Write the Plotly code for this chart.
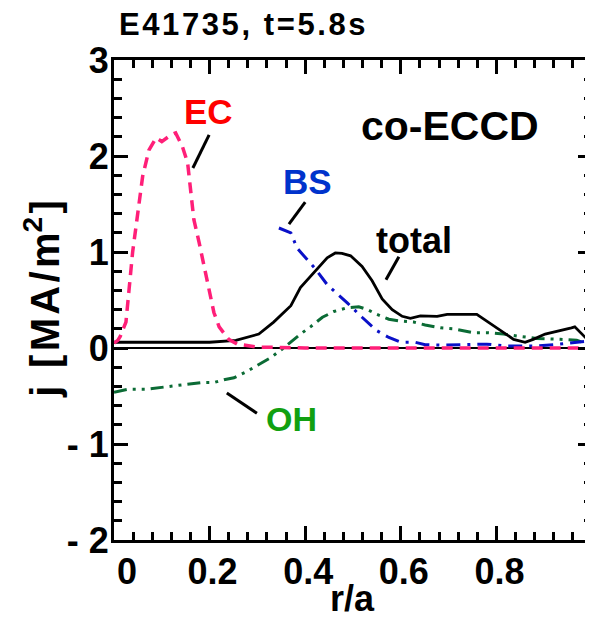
import plotly.graph_objects as go

# ---- data ----
ec_x = [0, 0.008, 0.013, 0.025, 0.039, 0.049, 0.06, 0.073, 0.088, 0.1, 0.119, 0.129, 0.143, 0.154,
        0.161, 0.167, 0.178, 0.188, 0.198, 0.209, 0.22, 0.24, 0.258, 0.3, 0.4, 0.5, 0.6, 0.7, 0.8, 0.9, 1.0]
ec_y = [0.05, 0.08, 0.12, 0.27, 1.0, 1.41, 1.79, 2.06, 2.19, 2.15, 2.22, 2.24, 2.1, 1.93,
        1.62, 1.34, 1.1, 0.85, 0.61, 0.37, 0.22, 0.09, 0.04, 0.01, 0, 0, 0, 0, 0, 0, 0]

tot_x = [0, 0.1, 0.2, 0.255, 0.303, 0.334, 0.37, 0.39, 0.418, 0.446, 0.463, 0.477, 0.495, 0.519,
         0.54, 0.561, 0.582, 0.603, 0.62, 0.641, 0.676, 0.697, 0.759, 0.783, 0.808, 0.836, 0.86,
         0.877, 0.902, 0.926, 0.957, 0.964, 0.982, 0.996]
tot_y = [0.06, 0.06, 0.06, 0.08, 0.145, 0.27, 0.44, 0.63, 0.79, 0.94, 0.99, 0.985, 0.96, 0.85,
         0.70, 0.51, 0.40, 0.33, 0.31, 0.335, 0.33, 0.35, 0.35, 0.27, 0.18, 0.09, 0.06,
         0.09, 0.145, 0.17, 0.21, 0.22, 0.13, 0.06]

bs_x = [0.345, 0.37, 0.383, 0.404, 0.422, 0.446, 0.474, 0.488, 0.519, 0.55, 0.575, 0.6, 0.63,
        0.651, 0.683, 0.738, 0.78, 0.822, 0.877, 0.919, 0.968, 0.99]
bs_y = [1.25, 1.2, 1.04, 0.92, 0.82, 0.66, 0.54, 0.47, 0.32, 0.18, 0.11, 0.06, 0.06,
        0.035, 0.03, 0.04, 0.04, 0.02, 0.02, 0.035, 0.06, 0.07]

oh_x = [0, 0.029, 0.067, 0.112, 0.147, 0.182, 0.209, 0.23, 0.251, 0.276, 0.3, 0.328, 0.352, 0.373,
        0.39, 0.411, 0.436, 0.46, 0.488, 0.512, 0.53, 0.55, 0.575, 0.6, 0.627, 0.651, 0.683, 0.71,
        0.752, 0.78, 0.815, 0.85, 0.884, 0.933, 0.968, 0.985]
oh_y = [-0.46, -0.43, -0.43, -0.40, -0.38, -0.36, -0.36, -0.33, -0.31, -0.25, -0.18, -0.10, -0.01, 0.08,
        0.145, 0.22, 0.32, 0.38, 0.42, 0.43, 0.40, 0.35, 0.30, 0.28, 0.27, 0.24, 0.21, 0.20,
        0.16, 0.16, 0.145, 0.12, 0.10, 0.09, 0.08, 0.05]

x_ticks = [0, 0.2, 0.4, 0.6, 0.8, 1.0]
x_ticktext = ["\u20070", "0.2", "0.4", "0.6", "0.8", "1"]
y_ticks = [-2, -1, 0, 1, 2, 3]
y_ticktext = ["- 2", "- 1", "0", "1", "2", "3"]

FONT = "Liberation Sans, Arial, Helvetica, sans-serif"

fig = go.Figure()
fig.add_trace(go.Scatter(x=oh_x, y=oh_y, mode="lines", name="OH",
                         line=dict(color="#0b6b35", width=3, dash="13px,6px,3px,6px,3px,6px")))
fig.add_trace(go.Scatter(x=bs_x, y=bs_y, mode="lines", name="BS",
                         line=dict(color="#0a10c8", width=3, dash="14px,7px,3px,7px")))
fig.add_trace(go.Scatter(x=tot_x, y=tot_y, mode="lines", name="total",
                         line=dict(color="black", width=2.8)))
fig.add_trace(go.Scatter(x=ec_x, y=ec_y, mode="lines", name="EC",
                         line=dict(color="#ff1f78", width=3.5, dash="11px,7px")))

axis_common = dict(showline=True, linecolor="black", linewidth=3, mirror="ticks",
                   ticks="inside", ticklen=14, tickwidth=2.5, tickcolor="black",
                   showgrid=False, automargin=False,
                   tickfont=dict(family=FONT, size=36, color="black", weight="bold"))

fig.update_xaxes(range=[0, 1], tickvals=x_ticks, ticktext=x_ticktext, zeroline=False,
                 ticklabeloverflow="allow", ticklabelshift=3, ticklabelstandoff=-2,
                 minor=dict(ticks="inside", ticklen=8, tickwidth=2.5, tickcolor="black", dtick=0.04),
                 **axis_common)
fig.update_yaxes(range=[-2, 3], tickvals=y_ticks, ticktext=y_ticktext,
                 zeroline=True, zerolinecolor="black", zerolinewidth=2,
                 ticklabelstandoff=-5,
                 minor=dict(ticks="inside", ticklen=8, tickwidth=2.5, tickcolor="black", dtick=0.2),
                 **axis_common)

HS = "\u200a"
ytitle = HS.join(["j", " ", "[", "M", "A", "/", "m<sup>2</sup>", "]"])
title_txt = HS.join(list("E41735, t=5.8s"))

annotations = [
    dict(text="<b>" + title_txt + "</b>", xref="paper", yref="paper", x=0.006, y=1.073,
         xanchor="left", yanchor="middle", showarrow=False,
         font=dict(family=FONT, size=31, color="black")),
    dict(text="<b>co-ECCD</b>", xref="x", yref="y", x=0.703, y=2.31,
         xanchor="center", yanchor="middle", showarrow=False,
         font=dict(family=FONT, size=41, color="black")),
    dict(text="<b>EC</b>", xref="x", yref="y", x=0.197, y=2.467,
         xanchor="center", yanchor="middle", showarrow=False,
         font=dict(family=FONT, size=35, color="#ff0000")),
    dict(text="<b>BS</b>", xref="x", yref="y", x=0.404, y=1.736,
         xanchor="center", yanchor="middle", showarrow=False,
         font=dict(family=FONT, size=35, color="#0033cc")),
    dict(text="<b>total</b>", xref="x", yref="y", x=0.628, y=1.116,
         xanchor="center", yanchor="middle", showarrow=False,
         font=dict(family=FONT, size=36, color="black")),
    dict(text="<b>OH</b>", xref="x", yref="y", x=0.372, y=-0.74,
         xanchor="center", yanchor="middle", showarrow=False,
         font=dict(family=FONT, size=34, color="#11a011")),
    dict(text="<b>r/a</b>", xref="paper", yref="paper", x=0.498, y=-0.122,
         xanchor="center", yanchor="middle", showarrow=False,
         font=dict(family=FONT, size=36, color="black")),
    dict(text="<b>" + ytitle + "</b>", xref="paper", yref="paper", x=-0.151, y=0.502,
         xanchor="center", yanchor="middle", showarrow=False, textangle=-90,
         font=dict(family=FONT, size=40, color="black")),
]

leaders = [
    (0.199, 2.22, 0.165, 1.875),
    (0.400, 1.52, 0.366, 1.29),
    (0.596, 0.95, 0.569, 0.71),
    (0.236, -0.47, 0.299, -0.68),
]
shapes = [dict(type="line", xref="x", yref="y", x0=a, y0=b, x1=c, y1=d,
               line=dict(color="black", width=3)) for a, b, c, d in leaders]

# page body has an 8px default margin, so the figure is 8px smaller than the window
fig.update_layout(width=585, height=612, margin=dict(l=106, r=1, t=52, b=80, autoexpand=False),
                  paper_bgcolor="white", plot_bgcolor="white", showlegend=False,
                  annotations=annotations, shapes=shapes)

fig.write_html("out.html")
